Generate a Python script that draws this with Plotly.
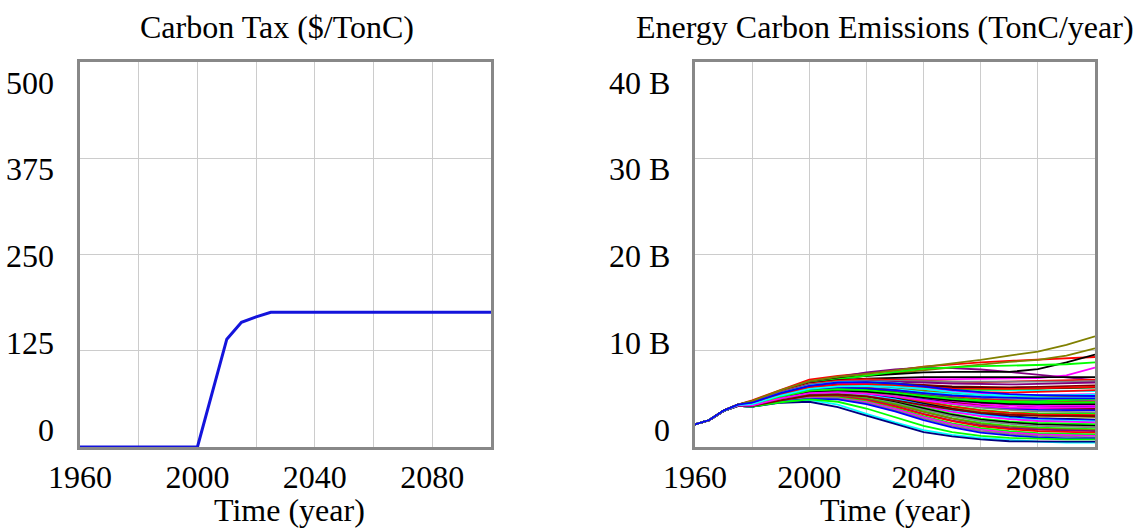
import plotly.graph_objects as go

# ---------------- data ----------------
tax_years = [1960, 2000, 2010, 2015, 2020, 2025, 2100]
tax_values = [0, 0, 140, 162, 169, 175, 175]

em_years = [1960, 1965, 1970, 1975, 1980, 1990, 2000, 2010, 2020, 2030, 2040, 2050, 2060, 2070, 2080, 2090, 2100]

# Energy carbon emissions, billions of TonC/year
run01 = [2.35, 2.80, 3.78, 4.40, 4.80, 5.90, 6.85, 7.30, 7.60, 7.95, 8.35, 8.70, 9.05, 9.50, 9.90, 10.60, 11.50]
run02 = [2.35, 2.80, 3.78, 4.40, 4.85, 5.95, 7.00, 7.40, 7.65, 7.95, 8.35, 8.60, 8.80, 8.95, 9.10, 9.20, 9.35]
run03 = [2.35, 2.80, 3.78, 4.40, 4.75, 5.85, 6.80, 7.30, 7.75, 8.05, 8.25, 8.20, 8.05, 7.80, 7.50, 7.20, 6.95]
run04 = [2.35, 2.80, 3.78, 4.40, 4.70, 5.80, 6.70, 7.10, 7.40, 7.70, 8.00, 8.30, 8.60, 8.85, 9.05, 9.50, 10.25]
run05 = [2.35, 2.80, 3.78, 4.40, 4.75, 5.80, 6.75, 7.15, 7.40, 7.60, 7.75, 7.80, 7.80, 7.80, 8.10, 8.80, 9.60]
run06 = [2.35, 2.80, 3.78, 4.40, 4.70, 5.75, 6.65, 7.05, 7.40, 7.80, 8.15, 8.30, 8.40, 8.45, 8.50, 8.60, 8.80]
run07 = [2.35, 2.80, 3.78, 4.40, 4.65, 5.70, 6.60, 6.90, 7.00, 7.05, 7.05, 7.05, 7.10, 7.10, 7.15, 7.45, 8.25]
run08 = [2.35, 2.80, 3.78, 4.40, 4.70, 5.75, 6.60, 6.95, 7.10, 7.20, 7.25, 7.25, 7.25, 7.25, 7.25, 7.25, 7.25]
run09 = [2.35, 2.80, 3.78, 4.40, 4.70, 5.75, 6.55, 6.90, 7.05, 7.00, 6.90, 6.80, 6.75, 6.80, 6.85, 6.90, 7.00]
run10 = [2.35, 2.80, 3.78, 4.40, 4.65, 5.70, 6.50, 6.80, 6.90, 6.90, 6.85, 6.80, 6.80, 6.75, 6.75, 6.80, 6.85]
run11 = [2.35, 2.80, 3.78, 4.40, 4.65, 5.65, 6.45, 6.75, 6.85, 6.80, 6.70, 6.60, 6.55, 6.50, 6.55, 6.60, 6.70]
run12 = [2.35, 2.80, 3.78, 4.40, 4.60, 5.60, 6.40, 6.75, 6.80, 6.65, 6.40, 6.10, 5.95, 5.90, 5.85, 5.80, 5.80]
run13 = [2.35, 2.80, 3.78, 4.40, 4.60, 5.60, 6.35, 6.70, 6.75, 6.60, 6.30, 5.95, 5.70, 5.50, 5.40, 5.35, 5.30]
run14 = [2.35, 2.80, 3.78, 4.40, 4.60, 5.55, 6.30, 6.60, 6.70, 6.60, 6.45, 6.30, 6.25, 6.20, 6.25, 6.30, 6.40]
run15 = [2.35, 2.80, 3.76, 4.35, 4.55, 5.55, 6.30, 6.60, 6.60, 6.45, 6.25, 6.05, 5.95, 6.00, 6.05, 6.10, 6.20]
run16 = [2.35, 2.80, 3.76, 4.35, 4.55, 5.50, 6.25, 6.55, 6.55, 6.35, 6.10, 5.85, 5.70, 5.65, 5.70, 5.80, 5.90]
run17 = [2.35, 2.80, 3.76, 4.35, 4.55, 5.50, 6.20, 6.50, 6.50, 6.30, 6.05, 5.75, 5.55, 5.45, 5.40, 5.45, 5.50]
run18 = [2.35, 2.80, 3.76, 4.35, 4.50, 5.45, 6.20, 6.45, 6.45, 6.35, 6.25, 6.20, 6.15, 6.10, 6.10, 6.15, 6.20]
run19 = [2.35, 2.80, 3.76, 4.35, 4.50, 5.45, 6.15, 6.40, 6.35, 6.10, 5.75, 5.40, 5.10, 4.95, 4.85, 4.80, 4.75]
run20 = [2.35, 2.80, 3.76, 4.35, 4.50, 5.40, 6.10, 6.35, 6.30, 6.10, 5.85, 5.60, 5.40, 5.30, 5.25, 5.25, 5.25]
run21 = [2.35, 2.80, 3.76, 4.35, 4.50, 5.40, 6.05, 6.30, 6.25, 6.00, 5.65, 5.35, 5.15, 5.00, 4.95, 4.95, 5.00]
run22 = [2.35, 2.80, 3.76, 4.35, 4.45, 5.35, 6.05, 6.25, 6.20, 6.00, 5.70, 5.45, 5.25, 5.15, 5.10, 5.05, 5.05]
run23 = [2.35, 2.80, 3.76, 4.35, 4.45, 5.35, 6.00, 6.20, 6.15, 5.90, 5.55, 5.20, 4.95, 4.80, 4.70, 4.70, 4.75]
run24 = [2.35, 2.80, 3.76, 4.35, 4.45, 5.30, 5.95, 6.15, 6.10, 5.85, 5.50, 5.10, 4.85, 4.75, 4.75, 4.85, 5.00]
run25 = [2.35, 2.80, 3.76, 4.35, 4.45, 5.30, 5.95, 6.10, 6.00, 5.70, 5.30, 4.95, 4.65, 4.45, 4.30, 4.25, 4.20]
run26 = [2.35, 2.80, 3.76, 4.35, 4.40, 5.25, 5.90, 6.10, 6.00, 5.75, 5.40, 5.05, 4.75, 4.55, 4.45, 4.40, 4.40]
run27 = [2.35, 2.80, 3.76, 4.35, 4.40, 5.25, 5.85, 6.05, 5.95, 5.65, 5.25, 4.85, 4.55, 4.35, 4.20, 4.15, 4.10]
run28 = [2.35, 2.80, 3.76, 4.35, 4.40, 5.20, 5.85, 6.00, 5.85, 5.55, 5.15, 4.75, 4.45, 4.30, 4.25, 4.30, 4.35]
run29 = [2.35, 2.80, 3.76, 4.35, 4.40, 5.20, 5.80, 5.95, 5.80, 5.45, 5.00, 4.60, 4.30, 4.10, 4.00, 3.95, 3.95]
run30 = [2.35, 2.79, 3.74, 4.30, 4.35, 5.15, 5.80, 5.90, 5.75, 5.40, 4.95, 4.50, 4.15, 3.95, 3.85, 3.80, 3.80]
run31 = [2.35, 2.79, 3.74, 4.30, 4.35, 5.15, 5.75, 5.85, 5.70, 5.35, 4.90, 4.45, 4.10, 3.85, 3.70, 3.65, 3.60]
run32 = [2.35, 2.79, 3.74, 4.30, 4.35, 5.10, 5.75, 5.85, 5.65, 5.25, 4.75, 4.25, 3.85, 3.60, 3.50, 3.45, 3.45]
run33 = [2.35, 2.79, 3.74, 4.30, 4.35, 5.10, 5.70, 5.80, 5.60, 5.20, 4.70, 4.20, 3.80, 3.55, 3.40, 3.35, 3.30]
run34 = [2.35, 2.79, 3.74, 4.30, 4.30, 5.05, 5.65, 5.75, 5.55, 5.10, 4.55, 4.05, 3.65, 3.40, 3.25, 3.15, 3.10]
run35 = [2.35, 2.79, 3.74, 4.30, 4.30, 5.05, 5.60, 5.70, 5.50, 5.05, 4.50, 3.95, 3.50, 3.20, 3.00, 2.90, 2.85]
run36 = [2.35, 2.79, 3.74, 4.30, 4.30, 5.00, 5.60, 5.65, 5.45, 5.00, 4.40, 3.85, 3.40, 3.10, 2.95, 2.85, 2.80]
run37 = [2.35, 2.79, 3.74, 4.28, 4.30, 5.00, 5.55, 5.60, 5.40, 4.95, 4.35, 3.75, 3.30, 3.00, 2.80, 2.70, 2.65]
run38 = [2.35, 2.79, 3.74, 4.28, 4.25, 4.95, 5.50, 5.55, 5.30, 4.85, 4.25, 3.65, 3.20, 2.90, 2.70, 2.60, 2.55]
run39 = [2.35, 2.79, 3.74, 4.28, 4.25, 4.95, 5.45, 5.50, 5.25, 4.75, 4.10, 3.45, 2.95, 2.65, 2.50, 2.40, 2.35]
run40 = [2.35, 2.79, 3.74, 4.28, 4.25, 4.90, 5.40, 5.45, 5.20, 4.65, 4.00, 3.35, 2.85, 2.55, 2.35, 2.25, 2.20]
run41 = [2.35, 2.79, 3.74, 4.28, 4.25, 4.90, 5.35, 5.40, 5.10, 4.55, 3.85, 3.20, 2.70, 2.40, 2.20, 2.10, 2.05]
run42 = [2.35, 2.79, 3.74, 4.28, 4.20, 4.85, 5.30, 5.35, 5.05, 4.45, 3.70, 3.00, 2.50, 2.20, 2.00, 1.90, 1.85]
run43 = [2.35, 2.79, 3.74, 4.28, 4.20, 4.85, 5.30, 5.30, 5.00, 4.40, 3.65, 2.95, 2.40, 2.10, 1.90, 1.80, 1.75]
run44 = [2.35, 2.79, 3.74, 4.28, 4.20, 4.80, 5.25, 5.25, 4.90, 4.25, 3.45, 2.75, 2.25, 1.95, 1.80, 1.70, 1.65]
run45 = [2.35, 2.79, 3.74, 4.28, 4.20, 4.80, 5.20, 5.20, 4.85, 4.20, 3.40, 2.70, 2.15, 1.85, 1.65, 1.55, 1.50]
run46 = [2.35, 2.79, 3.74, 4.28, 4.20, 4.75, 5.15, 5.15, 4.75, 4.05, 3.20, 2.45, 1.95, 1.65, 1.45, 1.35, 1.30]
run47 = [2.35, 2.79, 3.74, 4.28, 4.20, 4.75, 5.10, 5.05, 4.65, 3.95, 3.10, 2.35, 1.80, 1.50, 1.30, 1.20, 1.15]
run48 = [2.35, 2.79, 3.74, 4.28, 4.20, 4.70, 5.05, 5.00, 4.55, 3.80, 2.95, 2.20, 1.65, 1.35, 1.15, 1.05, 1.00]
run49 = [2.35, 2.79, 3.74, 4.28, 4.20, 4.70, 5.00, 4.95, 4.45, 3.70, 2.80, 2.05, 1.50, 1.20, 1.00, 0.90, 0.90]
run50 = [2.35, 2.79, 3.74, 4.28, 4.20, 4.65, 4.90, 4.40, 3.45, 2.55, 1.75, 1.25, 0.95, 0.75, 0.55, 0.45, 0.45]
run51 = [2.35, 2.79, 3.74, 4.28, 4.20, 4.60, 4.70, 4.15, 3.25, 2.40, 1.55, 1.10, 0.80, 0.60, 0.55, 0.55, 0.55]
run52 = [2.35, 2.79, 3.74, 4.28, 4.20, 4.65, 4.95, 4.70, 4.00, 3.10, 2.20, 1.55, 1.15, 0.95, 0.85, 0.80, 0.80]
run53 = [2.35, 2.79, 3.74, 4.28, 4.25, 4.85, 5.35, 5.45, 5.25, 4.85, 4.35, 3.90, 3.55, 3.35, 3.25, 3.20, 3.20]
run54 = [2.35, 2.79, 3.74, 4.30, 4.30, 5.10, 5.70, 5.85, 5.75, 5.50, 5.15, 4.85, 4.65, 4.50, 4.45, 4.45, 4.45]
run55 = [2.35, 2.80, 3.76, 4.35, 4.40, 5.30, 5.95, 6.15, 6.10, 5.90, 5.60, 5.35, 5.20, 5.10, 5.05, 5.05, 5.05]
run56 = [2.35, 2.80, 3.76, 4.35, 4.50, 5.45, 6.20, 6.45, 6.50, 6.40, 6.25, 6.10, 6.05, 6.05, 6.10, 6.15, 6.25]
run57 = [2.35, 2.80, 3.76, 4.35, 4.35, 5.20, 5.85, 6.00, 5.90, 5.65, 5.30, 5.00, 4.80, 4.65, 4.60, 4.60, 4.65]
run58 = [2.35, 2.79, 3.74, 4.30, 4.30, 5.05, 5.60, 5.70, 5.55, 5.25, 4.85, 4.50, 4.25, 4.10, 4.05, 4.10, 4.15]
run59 = [2.35, 2.80, 3.76, 4.35, 4.45, 5.35, 6.05, 6.30, 6.35, 6.25, 6.05, 5.70, 5.45, 5.35, 5.35, 5.40, 5.45]
run60 = [2.35, 2.79, 3.74, 4.28, 4.25, 4.90, 5.40, 5.45, 5.15, 4.60, 3.90, 3.25, 2.80, 2.55, 2.40, 2.35, 2.35]

em_runs = [run60, run02, run03, run04, run05, run06, run07, run08, run09, run10,
           run11, run12, run14, run15, run16, run17, run18, run19, run20,
           run21, run22, run23, run24, run25, run26, run27, run28, run29, run30,
           run31, run32, run33, run34, run35, run36, run37, run38, run39, run40,
           run41, run42, run43, run44, run45, run46, run47, run48, run49, run50,
           run51, run52, run53, run54, run55, run56, run57, run58, run59, run01, run13]

run_colors = ["#808080", "#FF0000", "#800080", "#808000", "#000000", "#00FF00", "#FF00FF", "#000000", "#FF0000", "#808080",
              "#800080", "#00FFFF", "#800000", "#00FF00", "#FF0000", "#FF00FF", "#000000", "#0000FF", "#808000",
              "#808080", "#00FFFF", "#FF0000", "#00FF00", "#0000FF", "#800080", "#000000", "#FF00FF", "#800000", "#0000FF",
              "#808080", "#00FF00", "#FF0000", "#808000", "#000000", "#0000FF", "#00FFFF", "#FF00FF", "#00FF00", "#000000",
              "#808080", "#00FF00", "#808000", "#800080", "#FF0000", "#00FF00", "#FF00FF", "#808080", "#0000FF", "#00FFFF",
              "#000080", "#00FF00", "#800000", "#000000", "#0000FF", "#FF0000", "#00FF00", "#FF00FF", "#00FFFF", "#808000", "#0000FF"]

tax_ticks = [0, 125, 250, 375, 500]
tax_tick_text = ["0", "125", "250", "375", "500"]
em_ticks = [0, 10, 20, 30, 40]
em_tick_text = ["0", "10 B", "20 B", "30 B", "40 B"]
year_ticks = [1960, 1980, 2000, 2020, 2040, 2060, 2080, 2100]
year_tick_text = ["1960", "", "2000", "", "2040", "", "2080", ""]

# ---------------- figure ----------------
FONT = "Liberation Serif"
FS = 32
W, H = 1139, 529
ML, MR, MT, MB = 80, 44, 62, 82
PW = W - ML - MR
PH = H - MT - MB

def px_x(p):
    return (p - ML) / PW

def px_y(p):
    return (H - MB - p) / PH

fig = go.Figure()

fig.add_trace(go.Scatter(x=tax_years, y=tax_values, mode="lines",
                         line=dict(color="#1414DC", width=3),
                         xaxis="x", yaxis="y", showlegend=False))

for vals, col in zip(em_runs, run_colors):
    fig.add_trace(go.Scatter(x=em_years, y=vals, mode="lines",
                             line=dict(color=col, width=1.8),
                             xaxis="x2", yaxis="y2", showlegend=False))

axis_common = dict(showline=True, linecolor="#888888", linewidth=3, mirror=True,
                   showgrid=True, gridcolor="#cccccc", gridwidth=1, zeroline=False,
                   ticks="", tickfont=dict(family=FONT, size=FS, color="black"))

fig.update_layout(
    width=W, height=H,
    margin=dict(l=ML, r=MR, t=MT, b=MB),
    paper_bgcolor="white", plot_bgcolor="white",
    font=dict(family=FONT, size=FS, color="black"),
    xaxis=dict(domain=[0, px_x(491)], range=[1960, 2100], tickvals=year_ticks,
               ticktext=year_tick_text, anchor="y", **axis_common),
    yaxis=dict(domain=[0, 1], range=[0, 500], tickvals=tax_ticks, showticklabels=False,
               anchor="x", **axis_common),
    xaxis2=dict(domain=[px_x(695), 1], range=[1960, 2100], tickvals=year_ticks,
                ticktext=year_tick_text, anchor="y2", **axis_common),
    yaxis2=dict(domain=[0, 1], range=[0, 40], tickvals=em_ticks, showticklabels=False,
                anchor="x2", **axis_common),
)

annotations = []
# y tick labels (compressed inside the frame, as in the original)
for i, t in enumerate(tax_tick_text):
    frac = tax_ticks[i] / 500
    annotations.append(dict(text=t, xref="x domain", yref="y domain", x=0, y=0.044 + 0.9025 * frac,
                            xanchor="right", yanchor="middle", xshift=-24, showarrow=False,
                            font=dict(family=FONT, size=FS, color="black")))
for i, t in enumerate(em_tick_text):
    frac = em_ticks[i] / 40
    annotations.append(dict(text=t, xref="x2 domain", yref="y2 domain", x=0, y=0.044 + 0.9025 * frac,
                            xanchor="right", yanchor="middle", xshift=-23, showarrow=False,
                            font=dict(family=FONT, size=FS, color="black")))
# titles
annotations.append(dict(text="Carbon Tax ($/TonC)", xref="paper", yref="paper", x=px_x(277), y=px_y(27),
                        xanchor="center", yanchor="middle", showarrow=False,
                        font=dict(family=FONT, size=FS, color="black")))
annotations.append(dict(text="Energy Carbon Emissions (TonC/year)", xref="paper", yref="paper", x=px_x(885), y=px_y(27),
                        xanchor="center", yanchor="middle", showarrow=False,
                        font=dict(family=FONT, size=FS, color="black")))
annotations.append(dict(text="Time (year)", xref="paper", yref="paper", x=px_x(289), y=px_y(510),
                        xanchor="center", yanchor="middle", showarrow=False,
                        font=dict(family=FONT, size=FS, color="black")))
annotations.append(dict(text="Time (year)", xref="paper", yref="paper", x=px_x(895), y=px_y(510),
                        xanchor="center", yanchor="middle", showarrow=False,
                        font=dict(family=FONT, size=FS, color="black")))
fig.update_layout(annotations=annotations)

fig.write_html("out.html", config={"displayModeBar": False},
               post_script="document.body.style.margin='0px';")
